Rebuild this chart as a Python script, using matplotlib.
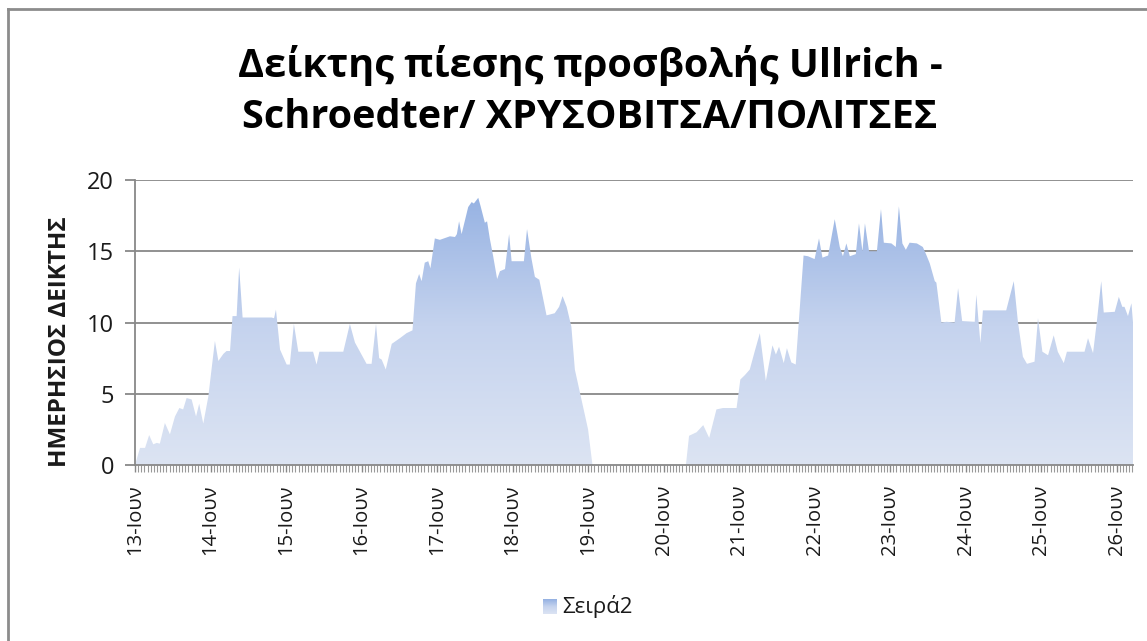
import numpy as np
import matplotlib.pyplot as plt
from matplotlib.colors import LinearSegmentedColormap
from matplotlib.patches import PathPatch
from matplotlib.lines import Line2D

plt.rcParams['font.family'] = ['Open Sans', 'DejaVu Sans']

# hours since 13-Ιουν 00:00 and index values
hours = [0.0, 1.6, 3.2, 4.5, 5.8, 6.9, 7.9, 9.5, 11.1, 12.7, 14.1, 15.3, 16.4, 18.0,
         19.4, 20.4, 21.7, 23.3, 25.4, 26.5, 28.1, 29.1, 30.2, 31.0, 32.3, 33.1, 34.2,
         43.4, 44.2, 44.8, 46.1, 48.2, 49.2, 50.5, 51.9, 56.6, 57.7, 58.6, 66.2, 68.3,
         69.9, 71.5, 73.6, 75.2, 76.6, 77.6, 78.4, 79.7, 81.6, 84.2, 86.3, 88.2, 89.3,
         90.3, 91.1, 92.1, 93.2, 93.9, 95.3, 96.9, 100.1, 101.7, 102.3, 103.0, 103.8,
         105.9, 107.0, 107.7, 109.1, 109.8, 111.2, 111.9, 112.8, 113.8, 115.1, 116.0,
         117.6, 118.9, 119.7, 123.6, 124.6, 126.0, 127.1, 128.5, 130.8, 133.4, 134.8,
         135.9, 137.2, 138.7, 139.8, 141.9, 144.0, 145.4, 175.1, 176.1, 178.5, 180.6,
         182.5, 184.8, 186.9, 191.2, 192.4, 193.8, 195.4, 197.0, 198.6, 200.5, 202.6,
         203.7, 204.7, 206.2, 207.2, 208.6, 210.0, 212.5, 213.9, 216.0, 217.4, 218.5,
         220.3, 222.4, 224.0, 225.0, 226.1, 227.2, 229.1, 230.1, 231.2, 232.0, 233.3,
         235.8, 237.1, 238.0, 240.4, 241.8, 242.8, 243.9, 245.0, 246.2, 248.5, 250.4,
         251.5, 252.6, 254.2, 254.7, 256.3, 257.9, 260.5, 261.6, 262.9, 266.9, 267.4,
         268.7, 269.5, 276.9, 279.3, 280.6, 282.2, 283.5, 285.9, 287.0, 288.4, 290.2,
         292.0, 293.3, 295.2, 296.2, 301.8, 302.9, 304.5, 305.7, 307.1, 307.9, 311.4,
         312.7, 313.8, 314.5, 315.6, 316.7, 317.2]
values = [0, 1.2, 1.2, 2.1, 1.45, 1.55, 1.5, 2.95, 2.15, 3.4, 4.0, 3.9, 4.7, 4.6,
          3.4, 4.3, 2.9, 4.8, 8.7, 7.3, 7.8, 8.0, 8.0, 10.45, 10.45, 13.85, 10.35,
          10.35, 10.3, 10.9, 8.1, 7.05, 7.05, 9.9, 7.95, 7.95, 7.05, 7.95, 7.95, 9.9,
          8.6, 7.95, 7.1, 7.1, 9.9, 7.5, 7.4, 6.7, 8.5, 8.9, 9.25, 9.45, 12.75,
          13.4, 12.9, 14.2, 14.3, 13.8, 15.9, 15.8, 16.05, 16.0, 16.2, 17.1, 16.2,
          18.1, 18.45, 18.35, 18.75, 18.2, 17.0, 17.1, 15.85, 14.7, 13.05, 13.6,
          13.75, 16.2, 14.3, 14.3, 16.55, 14.5, 13.2, 13.0, 10.5, 10.65, 11.1,
          11.85, 11.1, 9.7, 6.7, 4.6, 2.5, 0, 0, 2.05, 2.3, 2.8,
          1.9, 3.9, 4.0, 4.0, 6.0, 6.3, 6.7, 8.0, 9.25, 5.9, 8.4,
          7.75, 8.3, 7.15, 8.2, 7.2, 7.05, 14.7, 14.65, 14.45, 15.9, 14.55,
          14.7, 17.25, 15.3, 14.65, 15.55, 14.65, 14.8, 16.95, 15.0, 16.95, 15.0,
          15.0, 17.95, 15.6, 15.55, 15.3, 18.15, 15.55, 15.1, 15.6, 15.55, 15.3,
          14.75, 14.15, 12.9, 12.8, 10.0, 10.05, 10.0, 12.4, 10.1, 10.05, 11.95,
          8.55, 10.85, 10.85, 12.9, 10.1, 7.6, 7.1, 7.25, 10.3, 7.95, 7.7,
          9.1, 7.95, 7.15, 7.95, 7.95, 8.9, 7.85, 10.05, 12.9, 10.7, 10.75,
          11.8, 11.1, 11.1, 10.45, 11.35, 10.0]
days = [13, 14, 15, 16, 17, 18, 19, 20, 21, 22, 23, 24, 25, 26]
yticks = [0, 5, 10, 15, 20]

grid_col = '#888888'
text_col = '#1a1a1a'

fig = plt.figure(figsize=(11.47, 6.41), dpi=100)
W, H = 1147, 641

# chart frame (only left and top edges show)
fig.lines.append(Line2D([8 / W, 8 / W], [0, 1 - 9 / H], transform=fig.transFigure,
                        color='#8c8c8c', linewidth=2))
fig.lines.append(Line2D([8 / W, 1], [1 - 9 / H, 1 - 9 / H], transform=fig.transFigure,
                        color='#8c8c8c', linewidth=2))

ax = fig.add_axes([135 / W, 1 - 465 / H, (1133 - 135) / W, (465 - 180) / H])

x_end = hours[-1]

# gradient area
cmap = LinearSegmentedColormap.from_list('g', ['#dce4f3', '#c5d3ee', '#93b0e2'])
grad = np.linspace(0, 1, 256).reshape(-1, 1)
im = ax.imshow(grad, cmap=cmap, origin='lower', aspect='auto',
               extent=[0, x_end, 0, 19.5], zorder=2)
poly = ax.fill_between(hours, values, 0, color='none', linewidth=0)
pp = PathPatch(poly.get_paths()[0], transform=ax.transData,
               facecolor='none', edgecolor='none')
ax.add_patch(pp)
im.set_clip_path(pp)
ax.set_xlim(0, x_end)
ax.set_ylim(0, 20)

for y in yticks[1:]:
    ax.axhline(y, color=grid_col, linewidth=1.3, zorder=1)

for s in ['top', 'right']:
    ax.spines[s].set_visible(False)
for s in ['left', 'bottom']:
    ax.spines[s].set_color(grid_col)
    ax.spines[s].set_linewidth(1.3)
ax.spines['bottom'].set_zorder(3)

ax.set_yticks(yticks)
ax.set_yticklabels([str(v) for v in yticks], fontsize=17, color=text_col)
ax.tick_params(axis='y', length=7, width=1.3, color=grid_col, pad=8)

ax.set_xticks([(d - 13) * 24 for d in days])
ax.set_xticklabels([f'{d}-Ιουν' for d in days], rotation=90, fontsize=14.5,
                   color=text_col)
ax.set_xticks(np.arange(0, x_end, 1), minor=True)
ax.tick_params(axis='x', which='major', length=5, width=1.0, color=grid_col, pad=9)
ax.tick_params(axis='x', which='minor', length=5, width=0.8, color='#999999')

fig.text(60 / W, 1 - 342 / H, 'ΗΜΕΡΗΣΙΟΣ ΔΕΙΚΤΗΣ', rotation=90, fontsize=17.5,
         fontweight='bold', ha='center', va='center', color=text_col)

fig.text(590 / W, 1 - 77 / H, 'Δείκτης πίεσης προσβολής Ullrich -',
         ha='center', va='baseline', fontsize=28.5, fontweight='bold', color='black')
fig.text(590 / W, 1 - 128 / H, 'Schroedter/ ΧΡΥΣΟΒΙΤΣΑ/ΠΟΛΙΤΣΕΣ',
         ha='center', va='baseline', fontsize=28.5, fontweight='bold', color='black')

# legend
leg_ax = fig.add_axes([543 / W, 1 - 614 / H, 14 / W, 15 / H])
leg_ax.imshow(grad, cmap=cmap, origin='lower', aspect='auto')
leg_ax.axis('off')
fig.text(562 / W, 1 - 606 / H, 'Σειρά2', fontsize=16, va='center', ha='left',
         color=text_col)

fig.savefig('out.png', dpi=100)
